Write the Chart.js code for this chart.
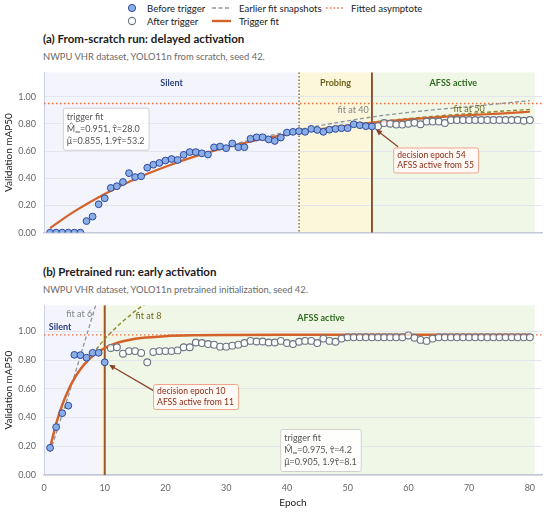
<!DOCTYPE html>
<html>
<head>
<meta charset="utf-8">
<script src="https://cdn.jsdelivr.net/npm/chart.js@4.4.1/dist/chart.umd.min.js"></script>
<style>
  body { margin: 0; width: 550px; height: 513px; background: #fff; position: relative; overflow: hidden;
         font-family: Lato, "Noto Sans", sans-serif; }
  .legend { position: absolute; top: 0; left: 0; width: 550px; height: 30px; font-size: 9.6px; color: #222; }
  .item { position: absolute; display: flex; align-items: center; height: 14px; white-space: nowrap; }
  .item svg { display: block; }
  .title { position: absolute; left: 43px; font-weight: 700; font-size: 11.5px; color: #1b1b1b; white-space: nowrap; }
  .sub { position: absolute; left: 43px; font-size: 9.4px; color: #6a6a6a; white-space: nowrap; }
  canvas { position: absolute; left: 0; }
</style>
</head>
<body>

<div class="legend">
  <div class="item" style="left:126px; top:1px">
    <svg width="12" height="12"><circle cx="6" cy="6" r="3.6" fill="#8aaee8" stroke="#2e4a9b" stroke-width="1"/></svg>
    <span style="margin-left:9px">Before trigger</span>
  </div>
  <div class="item" style="left:212px; top:1px">
    <svg width="19" height="6"><line x1="0" y1="3" x2="19" y2="3" stroke="#8c949c" stroke-width="1.3" stroke-dasharray="4 2.5"/></svg>
    <span style="margin-left:8px">Earlier fit snapshots</span>
  </div>
  <div class="item" style="left:326px; top:1px">
    <svg width="18" height="6"><line x1="0" y1="3" x2="18" y2="3" stroke="#e8744a" stroke-width="1.3" stroke-dasharray="1.6 2.2"/></svg>
    <span style="margin-left:7px">Fitted asymptote</span>
  </div>
  <div class="item" style="left:126px; top:14px">
    <svg width="12" height="12"><circle cx="6" cy="6" r="3.6" fill="#fff" stroke="#6c7385" stroke-width="1.1"/></svg>
    <span style="margin-left:9px">After trigger</span>
  </div>
  <div class="item" style="left:212px; top:14px">
    <svg width="19" height="6"><line x1="0" y1="3" x2="19" y2="3" stroke="#d4622a" stroke-width="2.4"/></svg>
    <span style="margin-left:8px">Trigger fit</span>
  </div>
</div>

<div class="title" style="top:32px">(a) From-scratch run: delayed activation</div>
<div class="sub" style="top:51px">NWPU VHR dataset, YOLO11n from scratch, seed 42.</div>
<canvas id="chartA" width="550" height="187" style="top:59px"></canvas>

<div class="title" style="top:265px">(b) Pretrained run: early activation</div>
<div class="sub" style="top:284px">NWPU VHR dataset, YOLO11n pretrained initialization, seed 42.</div>
<canvas id="chartB" width="550" height="221" style="top:292px"></canvas>

<script>
/*=============== DATA ===============*/
const xMin = 0, xMax = 82, bandEnd = 80.8
const xTicks = [0, 10, 20, 30, 40, 50, 60, 70, 80]
const yTicks = [0, 0.2, 0.4, 0.6, 0.8, 1.0]
const yMax = 1.18

// (a) from scratch: mAP50 per epoch, epochs 1..54 before the trigger, 55..80 after
const scratchBefore = [
  0.000, 0.000, 0.000, 0.000, 0.000, 0.000, 0.085, 0.118, 0.209, 0.253,
  0.329, 0.342, 0.373, 0.438, 0.409, 0.415, 0.478, 0.500, 0.513, 0.531,
  0.542, 0.535, 0.573, 0.593, 0.593, 0.584, 0.575, 0.628, 0.634, 0.622,
  0.657, 0.629, 0.629, 0.691, 0.702, 0.702, 0.686, 0.675, 0.700, 0.737,
  0.742, 0.747, 0.742, 0.764, 0.756, 0.742, 0.758, 0.764, 0.769, 0.769,
  0.798, 0.791, 0.784, 0.782
]
const scratchAfter = [
  0.784, 0.807, 0.802, 0.796, 0.796, 0.802, 0.809, 0.798, 0.818, 0.818,
  0.818, 0.807, 0.829, 0.829, 0.829, 0.829, 0.829, 0.829, 0.829, 0.829,
  0.829, 0.829, 0.829, 0.829, 0.824, 0.829
]
const scratchFitEpochs = [1, 5, 10, 15, 20, 25, 30, 35, 40, 45, 50, 55, 60, 65, 70, 75, 80]
const scratchFit       = [0.033, 0.156, 0.285, 0.395, 0.485, 0.563, 0.627, 0.680, 0.723, 0.759, 0.789, 0.814, 0.834, 0.851, 0.865, 0.877, 0.890]
const scratchFit40Epochs = [30, 35, 40, 45, 50, 55, 60, 65, 70, 75, 80]
const scratchFit40       = [0.638, 0.692, 0.742, 0.785, 0.823, 0.858, 0.885, 0.908, 0.928, 0.950, 0.972]
const scratchFit50Epochs = [40, 45, 50, 55, 60, 65, 70, 75, 80]
const scratchFit50       = [0.725, 0.760, 0.790, 0.818, 0.840, 0.860, 0.877, 0.893, 0.907]
const scratchAsymptote = 0.951
const scratchProbeStart = 42, scratchDecision = 54
const scratchFitText = { M: '0.951', tau: '28.0', mu: '0.855', tau19: '53.2' }

// (b) pretrained: epochs 1..10 before the trigger, 11..80 after
const pretrainBefore = [0.189, 0.333, 0.430, 0.482, 0.836, 0.834, 0.816, 0.850, 0.850, 0.784]
const pretrainAfter = [
  0.884, 0.889, 0.844, 0.862, 0.862, 0.849, 0.784, 0.856, 0.862, 0.862,
  0.862, 0.867, 0.889, 0.889, 0.922, 0.918, 0.911, 0.907, 0.893, 0.893,
  0.900, 0.907, 0.918, 0.933, 0.929, 0.929, 0.922, 0.922, 0.933, 0.918,
  0.911, 0.927, 0.933, 0.933, 0.918, 0.949, 0.933, 0.927, 0.949, 0.958,
  0.958, 0.958, 0.958, 0.958, 0.958, 0.958, 0.958, 0.958, 0.958, 0.971,
  0.955, 0.940, 0.933, 0.949, 0.958, 0.958, 0.958, 0.958, 0.958, 0.958,
  0.958, 0.958, 0.958, 0.958, 0.958, 0.958, 0.958, 0.958, 0.958, 0.958
]
const pretrainFitEpochs = [1, 2, 3, 4, 5, 6, 7, 8, 9, 10, 12, 14, 16, 20, 25, 30, 40, 50, 60, 70, 80]
const pretrainFit       = [0.190, 0.356, 0.488, 0.590, 0.672, 0.736, 0.787, 0.827, 0.858, 0.883, 0.918, 0.939, 0.953, 0.966, 0.972, 0.974, 0.975, 0.975, 0.975, 0.975, 0.975]
const pretrainFit6Epochs = [1, 2, 3, 4, 5, 6, 7, 8, 9]
const pretrainFit6       = [0.160, 0.290, 0.420, 0.550, 0.690, 0.830, 0.970, 1.110, 1.250]
const pretrainFit8Epochs = [2, 3, 4, 5, 6, 7, 8, 9, 10, 11, 12, 13, 14, 15, 16, 17]
const pretrainFit8       = [0.360, 0.480, 0.590, 0.665, 0.735, 0.785, 0.840, 0.895, 0.947, 0.990, 1.032, 1.070, 1.105, 1.140, 1.170, 1.195]
const pretrainAsymptote = 0.975
const pretrainProbeStart = 9.3, pretrainDecision = 10
const pretrainFitText = { M: '0.975', tau: '4.2', mu: '0.905', tau19: '8.1' }

/*=============== COLOURS ===============*/
const C = {
  beforeFill: '#8aaee8', beforeEdge: '#2e4a9b', afterEdge: '#6c7385',
  fit: '#d4622a', snapGray: '#8c949c', snapOlive: '#8e8a2c', asym: '#ec6a3c',
  silent: '#f4f5fc', probing: '#fcf7da', active: '#f0f7e6',
  silentText: '#2b3f7e', probingText: '#6d5f1a', activeText: '#2f6b1f',
  note: '#8b2b14', arrow: '#8a4028'
}
const FONT = 'Lato, "Noto Sans", sans-serif'
Chart.defaults.font.family = FONT
Chart.defaults.color = '#666'

const seq = (start, values) => values.map((v, i) => ({ x: start + i, y: v }))
const pairs = (xs, ys) => xs.map((x, i) => ({ x, y: ys[i] }))

/*=============== DATASETS ===============*/
const makeDatasets = (p) => [
  { label: 'Before trigger', data: seq(1, p.before), backgroundColor: C.beforeFill, borderColor: C.beforeEdge,
    borderWidth: 1, pointRadius: 3.4, order: 1 },
  { label: 'After trigger', data: seq(p.before.length + 1, p.after), backgroundColor: 'rgba(255,255,255,0.75)',
    borderColor: C.afterEdge, borderWidth: 1.1, pointRadius: 3.4, order: 2 },
  { label: 'Trigger fit', data: pairs(p.fitX, p.fit), showLine: true, borderColor: C.fit, borderWidth: p.fitWidth,
    pointRadius: 0, cubicInterpolationMode: 'monotone', order: 3 },
  { label: 'snap1', data: pairs(p.snap1X, p.snap1), showLine: true, borderColor: C.snapGray, borderWidth: 1.3,
    borderDash: [4, 2.5], pointRadius: 0, cubicInterpolationMode: 'monotone', order: 4 },
  { label: 'snap2', data: pairs(p.snap2X, p.snap2), showLine: true, borderColor: C.snapOlive, borderWidth: 1.4,
    borderDash: [4, 2.5], pointRadius: 0, cubicInterpolationMode: 'monotone', order: 5 },
  { label: 'asymptote', data: pairs([xMin, xMax], [p.asym, p.asym]), showLine: true, borderColor: C.asym,
    backgroundColor: C.asym, borderWidth: 1.3, borderDash: [1.5, 2.5], pointRadius: 0, order: 6 }
]

/*=============== DECORATION PLUGIN ===============*/
const fontFor = (size, kind, weight) => (weight || '') + ' ' + (kind === 'sub' ? size * 0.72 : size) + 'px ' + FONT

const richWidth = (ctx, line, size) => line.reduce((w, [t, kind]) => {
  ctx.font = fontFor(size, kind); return w + ctx.measureText(t).width
}, 0)

// draws one line of text; 'sub' is a subscript, 'hatU' / 'hatL' put a caret over an upper / lower case glyph
const drawRich = (ctx, line, x, yMid, size) => {
  const base = yMid + size * 0.36
  line.forEach(([t, kind]) => {
    ctx.font = fontFor(size, kind)
    const w = ctx.measureText(t).width
    ctx.fillText(t, x, kind === 'sub' ? base + size * 0.22 : base)
    if (kind === 'hatU' || kind === 'hatL') {
      const top = base - size * (kind === 'hatU' ? 0.98 : 0.78)
      const cx = x + w / 2 + (kind === 'hatU' ? 0.3 : 0.2)
      ctx.save()
      ctx.strokeStyle = ctx.fillStyle; ctx.lineWidth = 0.8
      ctx.beginPath()
      ctx.moveTo(cx - size * 0.2, top + size * 0.15)
      ctx.lineTo(cx, top)
      ctx.lineTo(cx + size * 0.2, top + size * 0.15)
      ctx.stroke()
      ctx.restore()
    }
    x += w
  })
}

const fitBoxLines = (f) => [
  [['trigger fit']],
  [['M', 'hatU'], ['\u221E', 'sub'], ['=' + f.M + ', '], ['\u03C4', 'hatL'], ['=' + f.tau]],
  [['\u03BC', 'hatL'], ['=' + f.mu + ', 1.9'], ['\u03C4', 'hatL'], ['=' + f.tau19]]
]

const makeDecor = (d) => ({
  id: 'decor',
  beforeDraw(chart) {
    const { ctx, chartArea: a, scales: { x } } = chart
    ctx.save()
    d.bands.forEach(b => {
      const x0 = x.getPixelForValue(b.from), x1 = x.getPixelForValue(b.to)
      ctx.fillStyle = b.color
      ctx.fillRect(x0, a.top, x1 - x0, a.bottom - a.top)
    })
    ctx.restore()
  },
  beforeDatasetsDraw(chart) {
    const { ctx, chartArea: a, scales: { x } } = chart
    ctx.save()
    d.markers.forEach(m => {
      const px = x.getPixelForValue(m.at)
      ctx.strokeStyle = m.color
      ctx.lineWidth = m.width
      ctx.setLineDash(m.dash || [])
      ctx.beginPath(); ctx.moveTo(px, a.top); ctx.lineTo(px, a.bottom); ctx.stroke()
    })
    ctx.restore()
  },
  afterDatasetsDraw(chart) {
    const { ctx, scales: { x, y } } = chart
    ctx.save()
    ctx.textBaseline = 'middle'

    // band titles and fit labels
    d.labels.forEach(l => {
      ctx.font = fontFor(l.size || 9, null, l.bold ? '700' : '')
      ctx.fillStyle = l.color
      ctx.textAlign = l.align || 'center'
      ctx.fillText(l.text, x.getPixelForValue(l.x), y.getPixelForValue(l.y))
    })

    // arrows to the decision point
    d.arrows.forEach(ar => {
      const x0 = x.getPixelForValue(ar.from[0]), y0 = y.getPixelForValue(ar.from[1])
      const tx = x.getPixelForValue(ar.to[0]), ty = y.getPixelForValue(ar.to[1])
      const ang = Math.atan2(ty - y0, tx - x0)
      const x1 = tx - Math.cos(ang) * ar.gap, y1 = ty - Math.sin(ang) * ar.gap
      ctx.strokeStyle = C.arrow; ctx.fillStyle = C.arrow; ctx.lineWidth = 1.2
      ctx.beginPath(); ctx.moveTo(x0, y0); ctx.lineTo(x1 - Math.cos(ang) * 4, y1 - Math.sin(ang) * 4); ctx.stroke()
      ctx.beginPath()
      ctx.moveTo(x1, y1)
      ctx.lineTo(x1 - Math.cos(ang) * 6 + Math.sin(ang) * 2.8, y1 - Math.sin(ang) * 6 - Math.cos(ang) * 2.8)
      ctx.lineTo(x1 - Math.cos(ang) * 6 - Math.sin(ang) * 2.8, y1 - Math.sin(ang) * 6 + Math.cos(ang) * 2.8)
      ctx.closePath(); ctx.fill()
    })

    // text boxes
    ctx.textAlign = 'left'
    ctx.textBaseline = 'alphabetic'
    d.boxes.forEach(b => {
      const size = b.size, lh = b.lineHeight
      const w = Math.max(...b.lines.map(l => richWidth(ctx, l, size))) + b.padX * 2
      const h = b.lines.length * lh + b.padY * 2
      const left = x.getPixelForValue(b.x), top = y.getPixelForValue(b.y)
      ctx.fillStyle = b.bg; ctx.strokeStyle = b.border; ctx.lineWidth = 1
      ctx.beginPath(); ctx.roundRect(left + 0.5, top + 0.5, w, h, 2); ctx.fill(); ctx.stroke()
      ctx.fillStyle = b.color
      b.lines.forEach((l, i) => drawRich(ctx, l, left + b.padX, top + b.padY + lh * (i + 0.5), size))
    })
    ctx.restore()
  }
})

/*=============== CHART OPTIONS ===============*/
const makeOptions = (showX, padding) => ({
  responsive: false,
  animation: false,
  layout: { padding },
  plugins: { legend: { display: false }, tooltip: { enabled: false } },
  scales: {
    x: {
      type: 'linear', min: xMin, max: xMax,
      afterBuildTicks: s => { s.ticks = xTicks.map(v => ({ value: v })) },
      afterFit: s => { s.height = showX ? 38 : 0 },
      grid: { display: false, drawTicks: false },
      border: { display: true, color: '#c5c8d6', width: 1.5 },
      ticks: { display: showX, padding: 8, color: '#666', font: { size: 9 } },
      title: { display: showX, text: 'Epoch', color: '#1b1b1b', font: { size: 10 }, padding: { top: 0, bottom: 4 } }
    },
    y: {
      min: 0, max: yMax,
      afterBuildTicks: s => { s.ticks = yTicks.map(v => ({ value: v })) },
      afterFit: s => { s.width = 44 },
      grid: { color: '#e4e6ee', lineWidth: 1, drawTicks: false },
      border: { color: '#cdd0e3', width: 1 },
      ticks: { padding: 8, color: '#666', font: { size: 9 }, callback: v => v.toFixed(2) },
      title: { display: true, text: 'Validation mAP50', color: '#1b1b1b', font: { size: 10 }, padding: { top: 3, bottom: 0 } }
    }
  }
})

const noteBox = { size: 8.6, lineHeight: 10.5, padX: 4, padY: 2, bg: 'rgba(255,250,247,0.96)', border: '#f0a58c', color: C.note }
const fitBox = { size: 9, lineHeight: 12, padX: 4, padY: 3, bg: 'rgba(255,255,255,0.92)', border: '#d0d0d0', color: '#555' }

/*=============== PANEL (a) ===============*/
new Chart(document.getElementById('chartA'), {
  type: 'scatter',
  data: { datasets: makeDatasets({
    before: scratchBefore, after: scratchAfter, fitX: scratchFitEpochs, fit: scratchFit, fitWidth: 2.2,
    snap1X: scratchFit40Epochs, snap1: scratchFit40, snap2X: scratchFit50Epochs, snap2: scratchFit50,
    asym: scratchAsymptote
  }) },
  options: makeOptions(false, { top: 6, bottom: 4, left: 0, right: 8 }),
  plugins: [makeDecor({
    bands: [
      { from: xMin, to: scratchProbeStart, color: C.silent },
      { from: scratchProbeStart, to: scratchDecision, color: C.probing },
      { from: scratchDecision, to: bandEnd, color: C.active }
    ],
    markers: [
      { at: scratchProbeStart, color: '#8a7d1e', width: 1.5, dash: [1.5, 2] },
      { at: scratchDecision, color: '#7a2f14', width: 1.6 }
    ],
    labels: [
      { text: 'Silent', x: 21, y: 1.10, color: C.silentText, bold: true },
      { text: 'Probing', x: 48, y: 1.10, color: C.probingText, bold: true },
      { text: 'AFSS active', x: 67.4, y: 1.10, color: C.activeText, bold: true },
      { text: 'fit at 40', x: 50.9, y: 0.90, color: '#7d858d' },
      { text: 'fit at 50', x: 70, y: 0.913, color: '#6f6a1a' }
    ],
    arrows: [{ from: [58.3, 0.633], to: [scratchDecision, scratchBefore[scratchDecision - 1]], gap: 5 }],
    boxes: [
      { ...fitBox, x: 3.1, y: 0.92, lines: fitBoxLines(scratchFitText) },
      { ...noteBox, x: 57.5, y: 0.627, lines: [[['decision epoch ' + scratchDecision]], [['AFSS active from ' + (scratchDecision + 1)]]] }
    ]
  })]
})

/*=============== PANEL (b) ===============*/
new Chart(document.getElementById('chartB'), {
  type: 'scatter',
  data: { datasets: makeDatasets({
    before: pretrainBefore, after: pretrainAfter, fitX: pretrainFitEpochs, fit: pretrainFit, fitWidth: 2.5,
    snap1X: pretrainFit6Epochs, snap1: pretrainFit6, snap2X: pretrainFit8Epochs, snap2: pretrainFit8,
    asym: pretrainAsymptote
  }) },
  options: makeOptions(true, { top: 6, bottom: 0, left: 0, right: 8 }),
  plugins: [makeDecor({
    bands: [
      { from: xMin, to: pretrainProbeStart, color: C.silent },
      { from: pretrainProbeStart, to: pretrainDecision, color: C.probing },
      { from: pretrainDecision, to: bandEnd, color: C.active }
    ],
    markers: [{ at: pretrainDecision, color: '#9a5530', width: 2 }],
    labels: [
      { text: 'Silent', x: 0.8, y: 1.027, color: C.silentText, bold: true, align: 'left' },
      { text: 'AFSS active', x: 45.6, y: 1.093, color: C.activeText, bold: true },
      { text: 'fit at 6', x: 5.8, y: 1.12, color: '#7d858d' },
      { text: 'fit at 8', x: 17.2, y: 1.107, color: '#6f6a1a' }
    ],
    arrows: [{ from: [18.3, 0.58], to: [pretrainDecision, pretrainBefore[pretrainDecision - 1]], gap: 5 }],
    boxes: [
      { ...fitBox, x: 38.9, y: 0.32, lines: fitBoxLines(pretrainFitText) },
      { ...noteBox, x: 17.96, y: 0.633, lines: [[['decision epoch ' + pretrainDecision]], [['AFSS active from ' + (pretrainDecision + 1)]]] }
    ]
  })]
})
</script>
</body>
</html>
